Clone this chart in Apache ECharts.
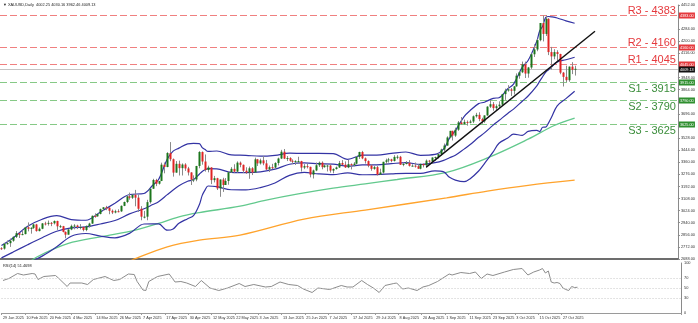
<!DOCTYPE html>
<html><head><meta charset="utf-8">
<script src="https://cdn.jsdelivr.net/npm/echarts@6/dist/echarts.min.js"></script>
<style>html,body{margin:0;padding:0;background:#fff}#c{width:698px;height:323px}</style>
</head><body><div id="c"></div>
<script>
// ---- data ----
const titleText = '\u25BC XAUUSD,Daily  4002.25 4030.16 3962.46 4009.13';
const rsiTitle = 'RSI(14) 51.4698';
const tickLabels = ['29 Jan 2025','10 Feb 2025','20 Feb 2025','4 Mar 2025','14 Mar 2025','26 Mar 2025','7 Apr 2025','17 Apr 2025','30 Apr 2025','12 May 2025','22 May 2025','3 Jun 2025','13 Jun 2025','25 Jun 2025','7 Jul 2025','17 Jul 2025','29 Jul 2025','8 Aug 2025','20 Aug 2025','1 Sep 2025','11 Sep 2025','23 Sep 2025','3 Oct 2025','15 Oct 2025','27 Oct 2025'];
const tickEvery = 8;
const totalSlots = 233;
// candles [open, high, low, close]
const candles = [
[2763,2770,2751,2760],[2760,2800,2753,2794],[2794,2817,2788,2798],[2798,2830,2772,2815],[2815,2845,2808,2842],
[2842,2882,2834,2867],[2867,2870,2834,2856],[2856,2886,2853,2861],[2861,2911,2859,2908],[2908,2942,2880,2898],
[2898,2909,2864,2904],[2904,2936,2897,2928],[2928,2932,2878,2882],[2882,2907,2880,2898],[2898,2938,2895,2935],
[2935,2947,2921,2933],[2933,2955,2920,2939],[2939,2945,2916,2936],[2936,2956,2928,2952],[2952,2954,2890,2915],
[2915,2925,2904,2916],[2916,2918,2873,2876],[2876,2880,2832,2857],[2857,2895,2857,2893],[2893,2927,2888,2918],
[2918,2930,2894,2920],[2920,2926,2896,2910],[2910,2930,2894,2910],[2910,2914,2880,2889],[2889,2921,2881,2916],
[2916,2940,2906,2934],[2934,2990,2932,2988],[2988,3005,2975,2984],[2984,3002,2982,3001],[3001,3038,2998,3034],
[3034,3048,3022,3047],[3047,3057,3027,3044],[3044,3048,2999,3023],[3023,3032,3000,3011],[3011,3030,3005,3020],
[3020,3033,3012,3019],[3019,3060,3015,3057],[3057,3087,3055,3084],[3084,3128,3076,3123],[3123,3149,3100,3113],
[3113,3135,3105,3134],[3134,3168,3054,3114],[3114,3136,3015,3037],[3037,3055,2957,2982],[2982,3022,2970,2982],
[2982,3099,2957,3083],[3083,3176,3073,3176],[3176,3245,3175,3237],[3237,3245,3194,3211],[3211,3230,3205,3230],
[3230,3357,3229,3343],[3343,3358,3283,3327],[3327,3430,3325,3424],[3424,3500,3367,3381],[3381,3386,3260,3288],
[3288,3368,3287,3349],[3349,3371,3268,3319],[3319,3352,3268,3344],[3344,3353,3300,3317],[3317,3328,3268,3289],
[3289,3291,3202,3239],[3239,3269,3222,3240],[3240,3335,3228,3334],[3334,3437,3318,3431],[3431,3435,3343,3365],
[3365,3414,3295,3306],[3306,3336,3290,3324],[3324,3325,3208,3236],[3236,3265,3220,3249],[3249,3252,3167,3178],
[3178,3241,3120,3240],[3240,3252,3154,3202],[3202,3250,3207,3230],[3230,3296,3204,3290],[3290,3326,3285,3314],
[3314,3346,3287,3295],[3295,3366,3287,3357],[3357,3365,3325,3342],[3342,3344,3285,3301],[3301,3325,3279,3288],
[3288,3330,3245,3318],[3318,3326,3271,3289],[3289,3392,3289,3380],[3380,3383,3334,3352],[3352,3385,3344,3373],
[3373,3403,3339,3352],[3352,3376,3307,3310],[3310,3337,3292,3326],[3326,3349,3311,3323],[3323,3360,3314,3355],
[3355,3392,3338,3386],[3386,3446,3382,3433],[3433,3452,3382,3385],[3385,3403,3368,3389],[3389,3395,3363,3370],
[3370,3380,3347,3368],[3368,3374,3341,3368],[3368,3398,3349,3368],[3368,3370,3295,3323],[3323,3347,3312,3333],
[3333,3350,3317,3328],[3328,3329,3255,3274],[3274,3309,3247,3303],[3303,3358,3298,3339],[3339,3365,3327,3357],
[3357,3366,3311,3326],[3326,3345,3322,3337],[3337,3342,3296,3337],[3337,3347,3288,3302],[3302,3318,3283,3313],
[3313,3330,3309,3324],[3324,3369,3320,3355],[3355,3375,3340,3343],[3343,3366,3320,3324],[3324,3377,3319,3347],
[3347,3352,3310,3339],[3339,3361,3332,3350],[3350,3402,3345,3397],[3397,3433,3383,3431],[3431,3439,3381,3387],
[3387,3393,3351,3368],[3368,3373,3325,3337],[3337,3345,3301,3314],[3314,3334,3308,3326],[3326,3334,3268,3274],
[3274,3315,3274,3289],[3289,3363,3281,3363],[3363,3385,3347,3373],[3373,3390,3358,3380],[3380,3384,3360,3369],
[3369,3409,3365,3397],[3397,3409,3381,3398],[3398,3404,3342,3342],[3342,3358,3332,3348],[3348,3368,3345,3356],
[3356,3375,3330,3335],[3335,3346,3332,3336],[3336,3358,3323,3332],[3332,3345,3315,3315],[3315,3350,3311,3348],
[3348,3351,3324,3339],[3339,3379,3321,3371],[3371,3376,3352,3365],[3365,3394,3351,3393],[3393,3399,3371,3396],
[3396,3423,3386,3416],[3416,3454,3407,3448],[3448,3490,3436,3476],[3476,3540,3474,3532],[3532,3578,3527,3578],
[3578,3579,3511,3545],[3545,3600,3536,3586],[3586,3646,3578,3636],[3636,3674,3621,3625],[3625,3656,3620,3640],
[3640,3650,3614,3634],[3634,3655,3630,3643],[3643,3685,3632,3679],[3679,3703,3670,3689],[3689,3707,3645,3660],
[3660,3669,3627,3644],[3644,3686,3634,3685],[3685,3749,3683,3746],[3746,3791,3737,3763],[3763,3778,3718,3736],
[3736,3762,3723,3749],[3749,3783,3740,3760],[3760,3835,3757,3833],[3833,3871,3793,3858],[3858,3895,3850,3866],
[3866,3876,3820,3856],[3856,3889,3830,3887],[3887,3977,3885,3961],[3961,3990,3940,3985],[3985,4059,3979,4040],
[4040,4059,3945,3976],[3976,4022,3947,4018],[4018,4116,4008,4110],[4110,4179,4091,4143],[4143,4218,4131,4208],
[4208,4327,4200,4327],[4327,4379,4199,4251],[4251,4381,4237,4356],[4356,4360,4104,4125],[4125,4161,4004,4095],
[4095,4145,4075,4125],[4125,4138,4059,4112],[4112,4113,3971,3982],[3982,3987,3886,3953],[3953,4030,3916,3930],
[3930,4025,3919,4024],[4024,4055,3972,4002],[4002,4030,3962,4009]
];
// Bollinger bands sampled [bar, value]
const bbUpper = [[0,2782],[4,2834],[9,2915],[14,2964],[19,2989],[24,2962],[29,2957],[34,3015],[39,3075],[44,3136],[49,3143],[52,3200],[54,3240],[57,3382],[59,3437],[61,3458],[64,3488],[66,3491],[68,3489],[69,3462],[70,3448],[71,3435],[74,3438],[79,3411],[84,3408],[89,3402],[94,3408],[99,3423],[104,3421],[109,3421],[114,3420],[119,3380],[124,3409],[129,3410],[134,3421],[139,3431],[144,3408],[149,3414],[152,3453],[154,3527],[156,3580],[159,3677],[161,3718],[164,3767],[166,3777],[169,3804],[171,3808],[174,3870],[176,3903],[179,4021],[181,4066],[184,4201],[185,4273],[186,4305],[187,4364],[188,4372],[189,4370],[191,4362],[194,4342],[197,4325]];
const bbMiddle = [[0,2696],[4,2736],[9,2787],[14,2836],[19,2881],[24,2904],[29,2911],[34,2931],[39,2955],[44,3001],[49,3037],[52,3066],[54,3086],[57,3135],[59,3167],[61,3197],[64,3228],[66,3240],[68,3277],[69,3296],[70,3308],[71,3315],[74,3314],[79,3290],[84,3288],[89,3293],[94,3312],[99,3346],[104,3355],[109,3350],[114,3347],[119,3333],[124,3341],[129,3342],[134,3350],[139,3357],[144,3345],[149,3357],[152,3373],[154,3391],[156,3408],[159,3451],[161,3481],[164,3533],[166,3564],[169,3618],[171,3650],[174,3699],[176,3729],[179,3784],[181,3820],[184,3891],[185,3923],[186,3954],[187,3984],[188,4002],[189,4020],[191,4057],[194,4072],[197,4089]];
const bbLower = [[0,2610],[4,2638],[9,2659],[14,2708],[19,2773],[24,2846],[29,2865],[34,2847],[39,2835],[44,2866],[49,2931],[52,2932],[54,2932],[57,2888],[59,2897],[61,2936],[64,2968],[66,2989],[68,3065],[69,3130],[70,3168],[71,3195],[74,3190],[79,3169],[84,3168],[89,3184],[94,3216],[99,3269],[104,3289],[109,3279],[114,3274],[119,3286],[124,3273],[129,3274],[134,3279],[139,3283],[144,3282],[149,3300],[152,3293],[154,3255],[156,3236],[159,3225],[161,3244],[164,3299],[166,3351],[169,3432],[171,3492],[174,3528],[176,3555],[179,3547],[181,3574],[184,3581],[185,3573],[186,3603],[187,3604],[188,3632],[189,3670],[191,3752],[194,3802],[197,3853]];
// moving averages sampled [bar, value]
const maGreen = [[8,2640],[12,2700],[23,2796],[34,2842],[46,2889],[54,2935],[61,2981],[68,3010],[82,3055],[91,3097],[102,3140],[114,3180],[125,3210],[136,3240],[153,3290],[167,3390],[181,3520],[190,3615],[197,3667]];
const maOrange = [[42,2650],[46,2690],[57,2773],[68,2819],[82,2854],[104,2965],[125,3028],[153,3113],[167,3160],[181,3200],[197,3236]];
// trend line endpoints [bar, price]
const trendLine = [[146,3326],[204,4270]];
// RSI sampled [bar, value]
const rsi = [[0,65],[2,69],[5,79],[7,76],[10,79],[11,78],[12,67],[14,73],[18,75],[19,70],[22,53],[23,60],[27,60],[29,57],[31,67],[35,73],[38,65],[40,67],[43,78],[45,77],[46,63],[48,46],[49,45],[50,63],[53,73],[57,78],[59,62],[61,63],[63,60],[66,53],[68,65],[71,50],[74,45],[77,50],[81,59],[83,53],[86,57],[90,52],[92,53],[95,62],[98,57],[101,55],[103,48],[106,41],[108,50],[112,47],[116,55],[118,52],[120,52],[123,65],[125,57],[127,50],[129,41],[131,55],[134,59],[135,60],[137,48],[139,50],[142,45],[144,52],[146,55],[149,63],[153,78],[154,76],[157,81],[160,79],[162,82],[164,69],[166,78],[168,75],[172,82],[175,87],[178,89],[180,76],[182,82],[184,86],[185,89],[186,80],[187,84],[188,62],[189,60],[190,61],[191,59],[192,50],[193,47],[194,45],[195,53],[196,51],[197,51.47]];
const rsiLevels = [70,50,30];
// support / resistance
const resistNames = ['R3 - 4383','R2 - 4160','R1 - 4045'];
const resistValues = [4383,4160,4045];
const supportNames = ['S1 - 3915','S2 - 3790','S3 - 3625'];
const supportValues = [3915,3790,3625];
const lastPrice = 4009.13;

// ---- chart ----
const cats = Array.from({length: totalSlots}, (_, i) => String(i));
const labelMap = {};
tickLabels.forEach((t, i) => { labelMap[i * tickEvery] = t; });
const isTick = (i) => labelMap[i] !== undefined;
const UP = '#1c761c', DOWN = '#e02424', WICK = '#8a8a8a';
const FONT = 'Liberation Sans, Arial, sans-serif';
const RED = '#e5393d', GREEN = '#3b8d3b';

// level table built from the arrays above: [x, value, kind] kind 0 = resistance, 1 = support, 2 = last price
const levelRows = [];
const levelText = [];
resistValues.forEach((v, i) => { levelRows.push([0, v, 0]); levelText.push(resistNames[i]); });
supportValues.forEach((v, i) => { levelRows.push([0, v, 1]); levelText.push(supportNames[i]); });
levelRows.push([0, lastPrice, 2]); levelText.push('');
const LINE_COL = ['#f08080', '#86c986', '#c4c4c4'];
const TAG_COL = ['#e5393d', '#2f8f2f', '#111111'];
const TEXT_COL = [RED, GREEN, ''];

function lineSeries(data, color, width) {
  return {type: 'line', xAxisIndex: 0, yAxisIndex: 0, data: data, showSymbol: false, symbol: 'none',
    smooth: 0.35, lineStyle: {color: color, width: width}, silent: true, z: 3, animation: false};
}

const chart = echarts.init(document.getElementById('c'));
chart.setOption({
  animation: false,
  backgroundColor: '#fff',
  grid: [
    {left: 0, width: 681, top: 5, height: 254},
    {left: 0, width: 681, top: 263, height: 50}
  ],
  xAxis: [
    {type: 'category', gridIndex: 0, data: cats, boundaryGap: true,
      axisLine: {show: true, lineStyle: {color: '#6d6d6d', width: 2}}, axisTick: {show: false}, axisLabel: {show: false}, splitLine: {show: false}},
    {type: 'category', gridIndex: 1, data: cats, boundaryGap: true,
      axisLine: {show: true, lineStyle: {color: '#9a9a9a', width: 1}},
      axisTick: {show: true, length: 2, interval: (i) => isTick(i), lineStyle: {color: '#9a9a9a'}},
      axisLabel: {interval: (i) => isTick(i), showMinLabel: true, hideOverlap: false, formatter: (v, i) => labelMap[i] || '',
        fontSize: 3.8, color: '#333', align: 'left', margin: 3, fontFamily: FONT},
      splitLine: {show: false}}
  ],
  yAxis: [
    {type: 'value', gridIndex: 0, position: 'right', min: 2688, max: 4452, interval: 84,
      axisLine: {show: true, lineStyle: {color: '#8a8a8a'}}, axisTick: {show: true, length: 2, lineStyle: {color: '#8a8a8a'}},
      axisLabel: {fontSize: 3.9, color: '#333', margin: 3, fontFamily: FONT, formatter: (v) => v.toFixed(2)}, splitLine: {show: false}},
    {type: 'value', gridIndex: 1, position: 'right', min: 0, max: 100, interval: 10,
      axisLine: {show: true, lineStyle: {color: '#8a8a8a'}}, axisTick: {show: false},
      axisLabel: {fontSize: 3.9, color: '#333', margin: 3, fontFamily: FONT, formatter: (v) => ([0, 30, 50, 70, 100].indexOf(v) >= 0 ? String(v) : '')},
      splitLine: {show: false}}
  ],
  graphic: [
    {type: 'text', left: 3, top: 3, silent: true, style: {text: titleText, fontSize: 3.9, fill: '#222', fontFamily: FONT}},
    {type: 'text', left: 3, top: 264, silent: true, style: {text: rsiTitle, fontSize: 3.9, fill: '#222', fontFamily: FONT}}
  ],
  series: [
    {type: 'custom', xAxisIndex: 0, yAxisIndex: 0, clip: false, silent: true, z: 2,
      data: levelRows, encode: {x: 0, y: 1},
      renderItem: function (params, api) {
        const v = api.value(1), k = api.value(2);
        const cs = params.coordSys;
        const y = Math.round(api.coord([0, v])[1]) + 0.5;
        const right = cs.x + cs.width;
        const kids = [
          {type: 'line', shape: {x1: cs.x, y1: y, x2: right, y2: y},
            style: {stroke: LINE_COL[k], lineWidth: 1, lineDash: k === 2 ? null : [7, 3]}},
          {type: 'rect', shape: {x: right + 1, y: y - 3, width: 16, height: 6}, style: {fill: TAG_COL[k]}},
          {type: 'text', x: right + 2, y: y, style: {text: v.toFixed(2), fill: '#fff', fontSize: 3.8, fontFamily: FONT,
            align: 'left', verticalAlign: 'middle'}}
        ];
        if (k !== 2) {
          kids.push({type: 'text', x: right - 2, y: k === 0 ? y + 0.5 : y + 1,
            style: {text: levelText[params.dataIndex], fill: TEXT_COL[k], fontSize: 11, fontFamily: FONT,
              align: 'right', verticalAlign: k === 0 ? 'bottom' : 'top'}});
        }
        return {type: 'group', children: kids};
      }},
    lineSeries(maOrange, '#ffa32c', 1.3),
    lineSeries(maGreen, '#62c98d', 1.3),
    lineSeries(bbUpper, '#3434a4', 1.2),
    lineSeries(bbMiddle, '#3434a4', 1.2),
    lineSeries(bbLower, '#3434a4', 1.2),
    {type: 'custom', xAxisIndex: 0, yAxisIndex: 0, clip: true, z: 4, silent: true,
      data: candles.map((d, i) => [i, d[0], d[1], d[2], d[3]]),
      encode: {x: 0, y: [1, 2, 3, 4]},
      renderItem: function (params, api) {
        const i = api.value(0), o = api.value(1), h = api.value(2), l = api.value(3), c = api.value(4);
        const pH = api.coord([i, h]), pL = api.coord([i, l]), pO = api.coord([i, o]), pC = api.coord([i, c]);
        const cx = Math.round(pH[0]) + 0.5;
        const top = Math.min(pO[1], pC[1]);
        const hh = Math.max(1, Math.abs(pO[1] - pC[1]));
        return {type: 'group', children: [
          {type: 'line', shape: {x1: cx, y1: pH[1], x2: cx, y2: pL[1]}, style: {stroke: WICK, lineWidth: 1}},
          {type: 'rect', shape: {x: cx - 1, y: top, width: 2, height: hh}, style: {fill: c >= o ? UP : DOWN}}
        ]};
      }},
    {type: 'line', xAxisIndex: 0, yAxisIndex: 0, data: trendLine, showSymbol: false, symbol: 'none',
      lineStyle: {color: '#111', width: 1.4}, z: 5, silent: true},
    {type: 'line', xAxisIndex: 1, yAxisIndex: 1, data: rsi, showSymbol: false, symbol: 'none',
      lineStyle: {color: '#8c8c8c', width: 1}, silent: true,
      markLine: {symbol: 'none', silent: true, animation: false, label: {show: false},
        lineStyle: {color: '#c8c8c8', type: [1, 2], width: 1},
        data: rsiLevels.map(v => ({yAxis: v}))}}
  ]
});
</script>
</body></html>
